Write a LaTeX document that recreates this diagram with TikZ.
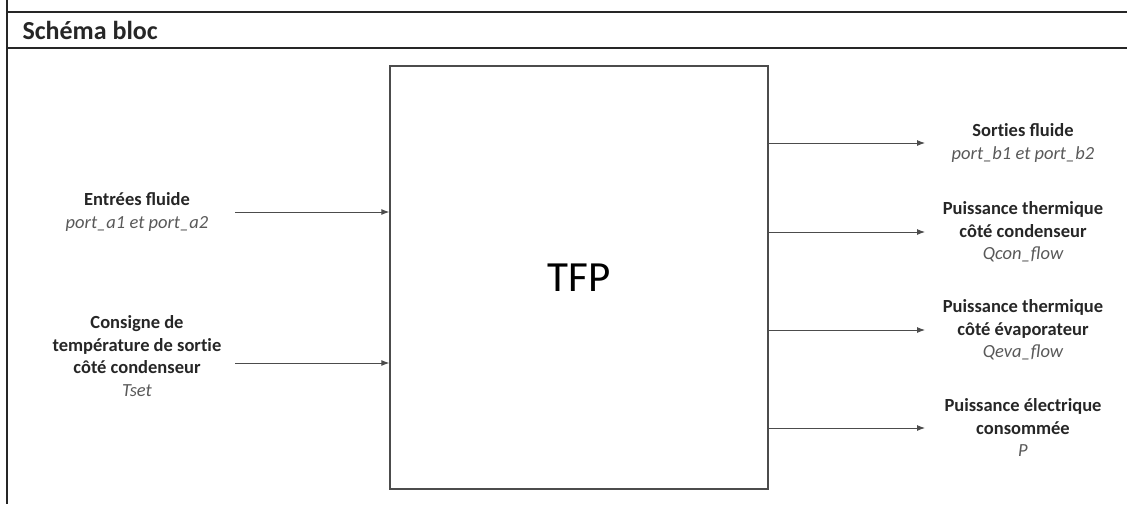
\documentclass[tikz,border=0pt]{standalone}
\usepackage{fontspec}
\setmainfont{Carlito}
\usetikzlibrary{arrows.meta}
\newcommand\subname[1]{{\mdseries\itshape\color{black!65}#1}}
\newcommand\nolig{\kern0pt{}}
\begin{document}
\begin{tikzpicture}[x=1pt,y=-1pt,
  frame/.style={line width=1.5pt,black!85},
  blockbox/.style={draw=black!70,line width=1.4pt,minimum width=378pt,minimum height=423pt,inner sep=0pt},
  conn/.style={draw=black!70,line width=0.9pt,-{Latex[length=8pt,width=6pt]}},
  lbl/.style={align=center,font=\fontsize{18.5}{22.5}\selectfont\bfseries,inner sep=0pt,text=black!85}]
\useasboundingbox (0,0) rectangle (1127,504);
\draw[frame] (7,0) -- (7,504);
\draw[frame] (7,12) -- (1127,12);
\draw[frame] (7,48) -- (1127,48);
\node[anchor=west,font=\fontsize{26}{28}\selectfont\bfseries,text=black!85] (title) at (19,30) {Schéma bloc};
\node[blockbox] (tfp) at (579,277.5) {\fontsize{43}{46}\selectfont TFP};
% inputs
\coordinate (i1) at (235,212);
\coordinate (i2) at (235,363);
\draw[conn] (i1) -- (i1 -| tfp.west);
\draw[conn] (i2) -- (i2 -| tfp.west);
\node[lbl] (l1) at (137,212) {Entrées fluide\\\subname{port\_a1 et port\_a2}};
\node[lbl] (l2) at (137,356) {Consigne de\\température de sort\nolig ie\\côté condenseur\\\subname{Tset}};
% outputs
\coordinate (o1) at (925,143);
\coordinate (o2) at (925,232);
\coordinate (o3) at (925,330);
\coordinate (o4) at (925,428);
\foreach \o in {o1,o2,o3,o4}{\draw[conn] (\o -| tfp.east) -- (\o);}
\node[lbl] (r1) at (1023,143) {Sort\nolig ies fluide\\\subname{port\_b1 et port\_b2}};
\node[lbl] (r2) at (1023,232) {Puissance thermique\\côté condenseur\\\subname{Qcon\_flow}};
\node[lbl] (r3) at (1023,330) {Puissance thermique\\côté évaporateur\\\subname{Qeva\_flow}};
\node[lbl] (r4) at (1023,428) {Puissance électrique\\consommée\\\subname{P}};
\end{tikzpicture}
\end{document}
